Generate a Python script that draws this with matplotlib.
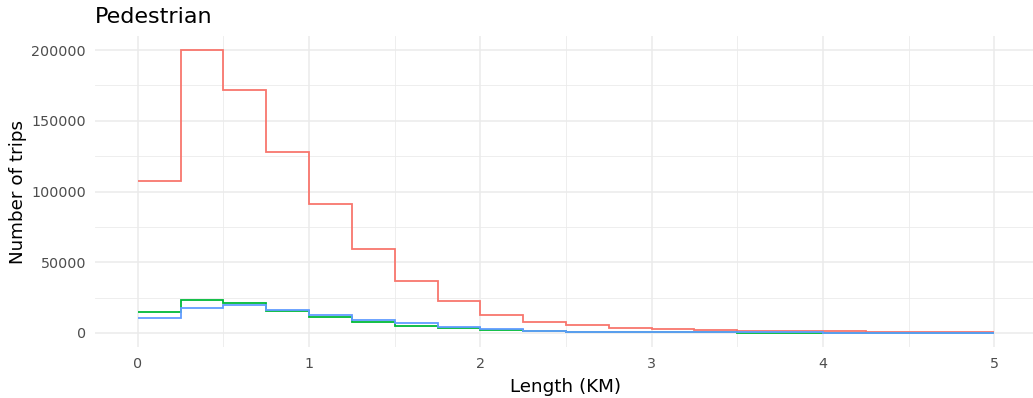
"""Pedestrian trip length histogram (step lines), ggplot-minimal look."""
import matplotlib

matplotlib.use("Agg")
import matplotlib.pyplot as plt
from matplotlib.ticker import MultipleLocator

# bin edges in km (0.25 km bins)
edges = [i * 0.25 for i in range(21)]

red = [107500, 200000, 171700, 127900, 91000, 59400, 36700, 22400, 12800, 7600,
       5300, 3600, 2800, 2100, 1650, 1400, 1200, 950, 800, 700]
green = [14600, 23300, 21200, 15500, 11100, 7500, 4900, 3100, 1700, 1000,
         700, 500, 400, 300, 250, 200, 150, 120, 100, 80]
blue = [10600, 17700, 19500, 16500, 12500, 9200, 7100, 4000, 2400, 1300,
        900, 650, 500, 400, 350, 300, 250, 200, 180, 150]

colors = ["#F8766D", "#00BA38", "#619CFF"]

xticks = [0, 1, 2, 3, 4, 5]
yticks = [0, 50000, 100000, 150000, 200000]

W, H = 1033, 398
fig = plt.figure(figsize=(W / 100, H / 100), dpi=100)
ax = fig.add_axes([95 / W, 1 - 347 / H, (1037 - 95) / W, (347 - 36) / H])

for vals, c in zip([red, green, blue], colors):
    ax.stairs(vals, edges, baseline=None, color=c, lw=1.3, zorder=3)

ax.set_xlim(-0.25, 5.25)
ax.set_ylim(-10000, 210000)
ax.set_xticks(xticks)
ax.set_yticks(yticks)
ax.set_xticklabels([str(t) for t in xticks])
ax.set_yticklabels([str(t) for t in yticks])
ax.xaxis.set_minor_locator(MultipleLocator(0.5))
ax.yaxis.set_minor_locator(MultipleLocator(25000))

ax.grid(True, which="major", color="#EBEBEB", lw=1.1)
ax.grid(True, which="minor", color="#EBEBEB", lw=0.6)
ax.set_axisbelow(True)
for s in ax.spines.values():
    s.set_visible(False)
ax.tick_params(which="both", length=0, labelsize=10.3, labelcolor="#4D4D4D")
ax.tick_params(axis="x", pad=7)
ax.tick_params(axis="y", pad=6.5)

ax.set_xlabel("Length (KM)", fontsize=13.2, color="black", labelpad=5)
ax.set_ylabel("Number of trips", fontsize=13.2, color="black", labelpad=3)
ax.set_title("Pedestrian", loc="left", fontsize=16, pad=9.6)

fig.savefig("out.png", dpi=100)
